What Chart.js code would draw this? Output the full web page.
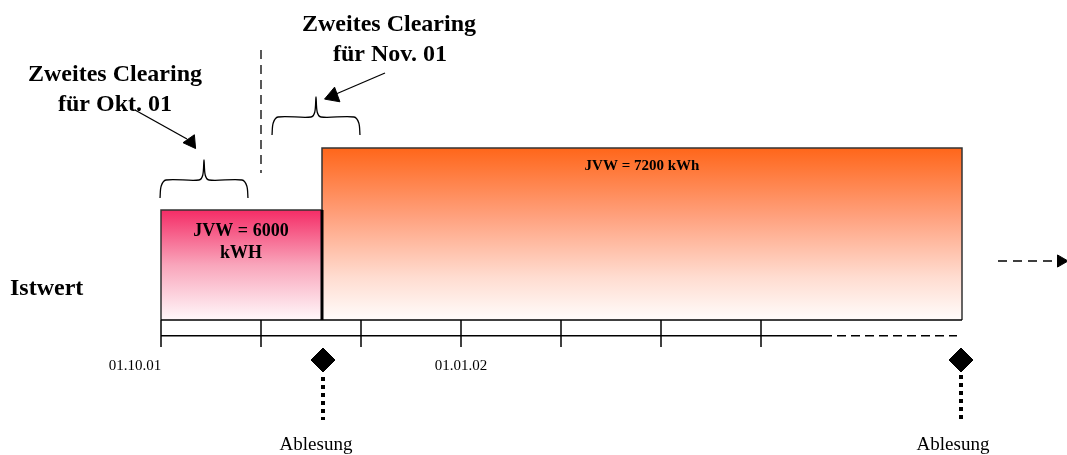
<!DOCTYPE html>
<html lang="de">
<head>
<meta charset="utf-8">
<title>Clearing JVW</title>
<script src="https://cdn.jsdelivr.net/npm/chart.js@4.4.1/dist/chart.umd.min.js"></script>
<style>
    html, body { margin: 0; padding: 0; background: #fff; }
    #wrap { width: 1067px; height: 455px; position: relative; }
</style>
</head>
<body>
<div id="wrap"><canvas id="clearingChart"></canvas></div>
<script>
// x = Monate ab 01.10.01, y = Höhe über der Zeitachse (Diagrammeinheiten)
const monthTicks = [0, 1, 2, 3, 4, 5, 6];
const tickLabels = ['01.10.01', '', '', '01.01.02', '', '', ''];
const periodLabels = ['JVW = 6000 kWH', 'JVW = 7200 kWh'];
const periodStart = [0, 1.61];
const periodEnd = [1.61, 8.01];
const periodLevel = [110, 172];
const readingMonths = [1.62, 8.0];       // Ablesung
const clearingFrom = [-0.01, 1.11];
const clearingTo = [0.87, 1.99];
const clearingLevel = [140, 203];

const FONT = "'Liberation Serif', 'Times New Roman', serif";

function barPoints(i) {
    return [
        { x: periodStart[i], y: 0 },
        { x: periodStart[i], y: periodLevel[i] },
        { x: periodEnd[i], y: periodLevel[i] },
        { x: periodEnd[i], y: 0 }
    ];
}

function bracePoints(x0, x1, y) {
    const c = (x0 + x1) / 2;
    return [
        { x: x0, y: y - 18 }, { x: x0 + 0.012, y: y - 6 }, { x: x0 + 0.06, y: y },
        { x: c - 0.05, y: y }, { x: c - 0.012, y: y + 5 }, { x: c, y: y + 20 },
        { x: c + 0.012, y: y + 5 }, { x: c + 0.05, y: y },
        { x: x1 - 0.06, y: y }, { x: x1 - 0.012, y: y - 6 }, { x: x1, y: y - 18 }
    ];
}

function gradientFill(i, stops) {
    return (context) => {
        const chart = context.chart;
        if (!chart.chartArea) return 'rgba(0,0,0,0)';
        const yS = chart.scales.y;
        const g = chart.ctx.createLinearGradient(0, yS.getPixelForValue(periodLevel[i]), 0, yS.getPixelForValue(0));
        stops.forEach(s => g.addColorStop(s[0], s[1]));
        return g;
    };
}

const line = (data, extra) => Object.assign({
    type: 'scatter', data: data, showLine: true, pointRadius: 0,
    borderColor: '#000', borderWidth: 1.5, fill: false
}, extra || {});

// Texte in Datenkoordinaten
const texts = [
    { t: 'Zweites Clearing', x: -0.46, y: 245, f: 'bold 24px' },
    { t: 'für Okt. 01', x: -0.46, y: 215, f: 'bold 24px' },
    { t: 'Zweites Clearing', x: 2.28, y: 295, f: 'bold 24px' },
    { t: 'für Nov. 01', x: 2.29, y: 265, f: 'bold 24px' },
    { t: 'Istwert', x: -1.51, y: 31, f: 'bold 24px', a: 'left' },
    { t: 'JVW = 6000', x: 0.80, y: 89, f: 'bold 18px' },
    { t: 'kWH', x: 0.80, y: 67, f: 'bold 18px' },
    { t: periodLabels[1], x: 4.81, y: 154, f: 'bold 15px' },
    { t: 'Ablesung', x: readingMonths[0] - 0.07, y: -125, f: '19px' },
    { t: 'Ablesung', x: readingMonths[1] - 0.08, y: -125, f: '19px' }
];
tickLabels.forEach((lbl, i) => {
    if (lbl) texts.push({ t: lbl, x: monthTicks[i] - (i === 0 ? 0.26 : 0), y: -46, f: '15px' });
});

const textPlugin = {
    id: 'diagramText',
    afterDatasetsDraw(chart) {
        const { ctx, scales } = chart;
        ctx.save();
        ctx.fillStyle = '#000';
        ctx.textBaseline = 'middle';
        texts.forEach(o => {
            ctx.font = o.f + ' ' + FONT;
            ctx.textAlign = o.a || 'center';
            ctx.fillText(o.t, scales.x.getPixelForValue(o.x), scales.y.getPixelForValue(o.y));
        });
        ctx.restore();
    }
};

// Reihenfolge: zuerst Flächen, danach Linien und Markierungen obendrauf
const datasets = [
    line(barPoints(1), {
        fill: 'origin', borderColor: '#333', borderWidth: 1.5,
        backgroundColor: gradientFill(1, [[0, '#ff661a'], [0.4, '#ffa17e'], [0.75, '#ffdcd0'], [1, '#fffcfb']])
    }),
    line(barPoints(0), {
        fill: 'origin', borderColor: '#333', borderWidth: 1.5,
        backgroundColor: gradientFill(0, [[0, '#f42c66'], [0.5, '#f9a5bb'], [1, '#fff8fa']])
    }),
    line([{ x: periodEnd[0], y: 0 }, { x: periodEnd[0], y: periodLevel[0] }], { borderWidth: 3 }),
    // Zeitachse
    line([{ x: 0, y: 0 }, { x: periodEnd[1], y: 0 }]),
    line([{ x: 0, y: -15.7 }, { x: 6.62, y: -15.7 }]),
    line([{ x: 6.62, y: -15.7 }, { x: 7.96, y: -15.7 }], { borderDash: [9, 5] }),
    {
        type: 'scatter',
        data: monthTicks.map(m => ({ x: m, y: -13.5 })),
        pointStyle: 'line', pointRotation: 90, pointRadius: 13.5,
        borderColor: '#000', borderWidth: 1.5
    },
    // Clearing-Klammern
    line(bracePoints(clearingFrom[0], clearingTo[0], clearingLevel[0]), { tension: 0.3, borderWidth: 1.3 }),
    line(bracePoints(clearingFrom[1], clearingTo[1], clearingLevel[1]), { tension: 0.3, borderWidth: 1.3 }),
    line([{ x: 1.0, y: 270 }, { x: 1.0, y: 147 }], { borderDash: [9, 6], borderWidth: 1.3 }),
    // Pfeile
    line([{ x: -0.26, y: 210 }, { x: 0.26, y: 181 }], { borderWidth: 1.3 }),
    line([{ x: 2.24, y: 247 }, { x: 1.68, y: 223 }], { borderWidth: 1.3 }),
    line([{ x: 8.37, y: 59 }, { x: 9.0, y: 59 }], { borderDash: [9, 6], borderWidth: 1.5 }),
    {
        type: 'scatter',
        data: [{ x: 0.3, y: 178 }, { x: 1.72, y: 224 }, { x: 9.0, y: 59 }],
        pointStyle: 'triangle', pointRadius: [8, 9, 7], pointRotation: [25, 250, 90],
        backgroundColor: '#000', borderColor: '#000', borderWidth: 1
    },
    // Ablesungen
    line([{ x: readingMonths[0], y: -57 }, { x: readingMonths[0], y: -100 }], { borderDash: [4, 4], borderWidth: 4 }),
    line([{ x: readingMonths[1], y: -55 }, { x: readingMonths[1], y: -100 }], { borderDash: [4, 4], borderWidth: 4 }),
    {
        type: 'scatter',
        data: readingMonths.map(m => ({ x: m, y: -40 })),
        pointStyle: 'rectRot', pointRadius: 12,
        backgroundColor: '#000', borderColor: '#000', borderWidth: 1
    }
];

const ctx = document.getElementById('clearingChart').getContext('2d');
const clearingChart = new Chart(ctx, {
    type: 'scatter',
    data: { datasets: datasets.map((d, i) => Object.assign({ clip: false, order: datasets.length - i }, d)) },
    options: {
        responsive: true,
        maintainAspectRatio: false,
        animation: false,
        layout: { padding: 0, autoPadding: false },
        plugins: { legend: { display: false }, tooltip: { enabled: false } },
        scales: {
            x: { type: 'linear', min: -1.61, max: 9.06, display: false },
            y: { type: 'linear', min: -135, max: 320, display: false }
        }
    },
    plugins: [textPlugin]
});
</script>
</body>
</html>
